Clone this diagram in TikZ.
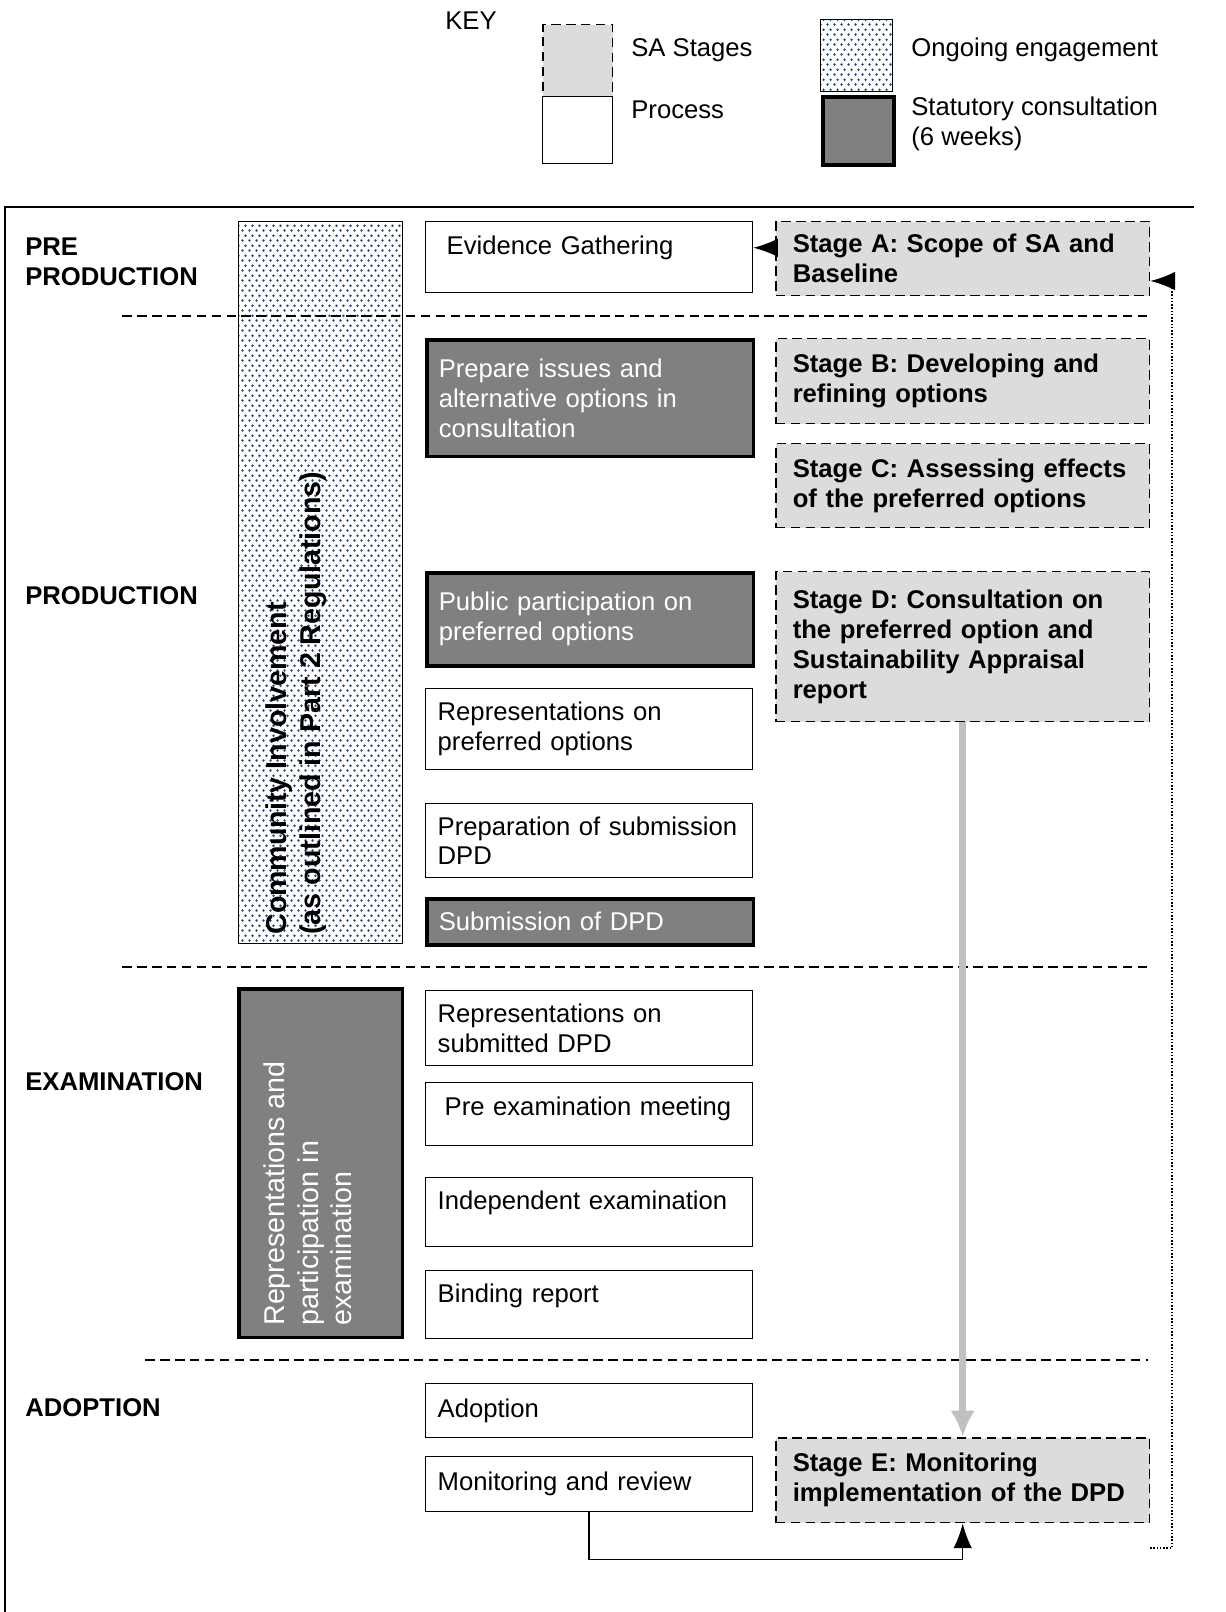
\documentclass[tikz,border=0pt]{standalone}
\usepackage{fontspec}
\setmainfont{Liberation Sans}
\usepackage{xcolor}
\usepackage{tikz}
\usetikzlibrary{arrows.meta}
\usetikzlibrary{patterns.meta}
\definecolor{sagray}{RGB}{220,220,220}
\definecolor{statgray}{RGB}{128,128,128}
\definecolor{arrowgray}{RGB}{192,192,192}
\definecolor{dotblue}{RGB}{40,70,120}
\newcommand{\diagfont}{\fontsize{14.6}{17}\selectfont}
\newcommand{\sidefont}{\fontsize{16.3}{19.3}\selectfont}
\tikzset{edge/.style = {-{Latex[length=14pt,width=10.5pt]}, line width=0.85pt}}
\tikzdeclarepattern{
  name=sadots,
  type=uncolored,
  bottom left={(0pt,0pt)},
  top right={(3.7pt,5.6pt)},
  tile size={(3.7pt,5.6pt)},
  code={
    \fill (0.92pt,1.4pt) circle (0.8pt);
    \fill (2.77pt,4.2pt) circle (0.8pt);
  }
}

\begin{document}
\begin{tikzpicture}[x=0.02cm,y=-0.02cm,
  box/.style={draw,line width=0.8pt,fill=white,inner sep=0pt,anchor=north west},
  process/.style={box,font=\diagfont,text width=6.06cm,inner xsep=0.24cm,inner ysep=4pt,align=left},
  statfill/.style={fill=statgray,line width=2pt},
  statutory/.style={process,statfill,text=white},
  sadash/.style={draw,fill=sagray,line width=0.85pt,dash pattern=on 5.5pt off 3pt,inner sep=0pt,anchor=north west},
  sastage/.style={sadash,font=\diagfont\bfseries,text width=6.8cm,inner xsep=0.34cm,inner ysep=4pt,align=left},
  engage/.style={draw,line width=0.6pt,pattern=sadots,pattern color=dotblue,inner sep=0pt,anchor=north west},
  textlift/.style={text depth=#1},
  keylabel/.style={font=\diagfont,anchor=west,align=left,inner sep=0pt},
  section/.style={font=\diagfont\bfseries,anchor=west,align=left,inner sep=0pt},
  sidetext/.style={font=\sidefont,rotate=90,anchor=north west,align=left,inner sep=0pt},
  phaseline/.style={line width=0.85pt,dash pattern=on 5.5pt off 3pt},
  grayedge/.style={-{Latex[length=15pt,width=14pt]},line width=4pt,draw=arrowgray}]
  \useasboundingbox (0,0) rectangle (1226,1612);

  % key
  \node[keylabel] (key) at (445,21) {KEY};
  \node[sadash,minimum width=1.4cm,minimum height=1.44cm] (skey) at (542,24) {};
  \node[box,minimum width=1.4cm,minimum height=1.34cm] (pkey) at (542,96) {};
  \node[engage,minimum width=1.44cm,minimum height=1.44cm] (okey) at (820,19) {};
  \node[box,statfill,minimum width=1.42cm,minimum height=1.36cm] (stkey) at (821,95) {};
  \node[keylabel] (skeytext) at (631,50) {SA Stages};
  \node[keylabel] (pkeytext) at (631,110) {Process};
  \node[keylabel] (okeytext) at (911,50) {Ongoing engagement};
  \node[keylabel] (stkeytext) at (911,124) {Statutory consultation\\(6 weeks)};

  % frame
  \draw[line width=1.1pt] (1194,207) -- (5,207) -- (5,1612);

  % phases
  \node[section] (prepro) at (25,262) {PRE\\PRODUCTION};
  \node[section] (produc) at (25,596) {PRODUCTION};
  \node[section] (exam) at (25,1082) {EXAMINATION};
  \node[section] (adopt) at (25,1408) {ADOPTION};

  % side columns
  \node[engage,minimum width=3.28cm,minimum height=14.44cm] (ci) at (238,221) {};
  \node[sidetext,font=\sidefont\bfseries] (citext) at (265,935) {Community Involvement\\(as outlined in Part 2 Regulations)};
  \node[box,statfill,minimum width=3.28cm,minimum height=6.98cm] (rp) at (237,987) {};
  \node[sidetext,text=white] (rptext) at (263,1326) {Representations and\\participation in\\examination};

  \draw[phaseline] (122,316) -- (1150,316);
  \draw[phaseline] (122,967) -- (1150,967);
  \draw[phaseline] (145,1360) -- (1148,1360);

  % process column
  \node[process,text width=5.70cm,inner xsep=0.42cm,textlift=14pt,minimum height=1.42cm] (evid) at (425,221) {Evidence Gathering};
  \node[statutory,minimum height=2.34cm] (prep) at (425,338) {Prepare issues and\\alternative options in\\consultation};
  \node[statutory,minimum height=1.86cm] (pub) at (425,571) {Public participation on\\preferred options};
  \node[process,minimum height=1.62cm] (repo) at (425,688) {Representations on\\preferred options};
  \node[process,minimum height=1.48cm] (psub) at (425,803) {Preparation of submission\\DPD};
  \node[statutory,minimum height=0.92cm] (sub) at (425,897) {Submission of DPD};
  \node[process,minimum height=1.50cm] (reps) at (425,990) {Representations on\\submitted DPD};
  \node[process,text width=5.78cm,inner xsep=0.38cm,textlift=9pt,minimum height=1.26cm] (pre) at (425,1082) {Pre examination meeting};
  \node[process,textlift=14pt,minimum height=1.38cm] (ind) at (425,1177) {Independent examination};
  \node[process,textlift=13pt,minimum height=1.36cm] (bind) at (425,1270) {Binding report};
  \node[process,minimum height=1.08cm] (adop) at (425,1383) {Adoption};
  \node[process,minimum height=1.10cm] (mon) at (425,1456) {Monitoring and review};

  % SA stages
  \node[sastage,minimum height=1.48cm] (sa) at (775,221) {Stage A: Scope of SA and\\Baseline};
  \node[sastage,minimum height=1.70cm] (sb) at (775,338) {Stage B: Developing and\\refining options};
  \node[sastage,minimum height=1.68cm] (sc) at (775,443) {Stage C: Assessing effects\\of the preferred options};
  \node[sastage,minimum height=3.00cm] (sd) at (775,571) {Stage D: Consultation on\\the preferred option and\\Sustainability Appraisal\\report};
  \node[sastage,minimum height=1.70cm] (se) at (775,1437) {Stage E: Monitoring\\implementation of the DPD};

  % connectors
  \coordinate (atip) at ([yshift=0.22cm]sa.west);
  \draw[edge] (atip) -- (atip -| evid.east);
  \draw[grayedge] (sd.south) -- (se.north);
  \draw[edge] (mon.south) -- ++(0,47) -| (se.south);
  \coordinate (fbstart) at (1150,1548);
  \coordinate (fbturn) at (1172,281);
  \draw[edge,densely dotted,line width=0.7pt] (fbstart) -| (fbturn) -- (fbturn -| sa.east);
\end{tikzpicture}
\end{document}
